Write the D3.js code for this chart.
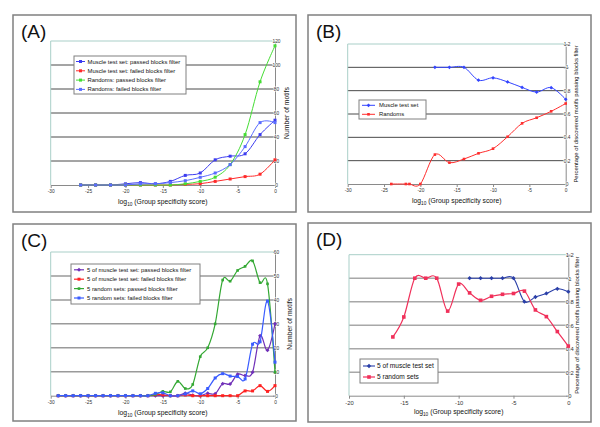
<!DOCTYPE html>
<html><head><meta charset="utf-8">
<script src="https://cdn.jsdelivr.net/npm/d3@7"></script>
<style>body{margin:0;background:#fff;} svg{display:block;font-family:Arial,'Liberation Sans',sans-serif;}</style>
</head><body><svg id="c" width="600" height="427"></svg>
<script>
// ---------- Panel A ----------
const xA = [-26,-24,-22,-20,-18,-16,-14,-12,-10,-8,-6,-4,-2,0];
const aMusclePassed = [0,0,0,1,2,1,3,8,10,21,24,26,42,54];
const aMuscleFailed = [0,0,0,0,0,0,0,0.5,1.1,3,5,7,9,21];
const aRandPassed   = [0,0,0,0,0,0,0,1,3,6.5,17,42,86,116];
const aRandFailed   = [0,0,0,0,1,1,2,3.6,6.4,10,17,32,52,52];
const ticksA_x = [-30,-25,-20,-15,-10,-5,0];
const ticksA_y = [0,20,40,60,80,100,120];

// ---------- Panel B ----------
const xBMuscle = [-18,-16,-14,-12,-10,-8,-6,-4,-2,0];
const bMuscle  = [1,1,1,0.89,0.91,0.875,0.828,0.788,0.826,0.726];
const xBRand   = [-24,-22,-21.5,-20,-18,-16,-14,-12,-10,-8,-6,-4,-2,0];
const bRand    = [0,0,0,0,0.252,0.183,0.214,0.263,0.303,0.405,0.52,0.568,0.623,0.69];
const ticksB_x = [-30,-25,-20,-15,-10,-5,0];
const ticksB_y = [0,0.2,0.4,0.6,0.8,1,1.2];

// ---------- Panel C ----------
const xC = d3.range(-29, 1);
const cMusclePassed = [0,0,0,0,0,0,0,0,0,0,0,0,0,0,0,0,0, 1,0.2,0,1,0.8,5,4.9,9,8.4,9.8,25,19,30];
const cMuscleFailed = [0,0,0,0,0,0,0,0,0,0,0,0,0, 0.4,0.4,0,0,0.3,0,0,0,0,0,0,0,2,2,4.2,1.8,4.2];
const cRandPassed   = [0,0,0,0,0,0,0,0,0,0,0,0,0, 0.5,1.8,1.6,6,3,4.7,16.3,20,30,48.3,47.8,52.3,54,56.3,47.2,46.7,9.8];
const cRandFailed   = [0,0,0,0,0,0,0,0,0,0,0,0,0, 1,1.2,0,0,0.7,2,0.8,3,7.4,9.2,8.2,8,7,21.5,22.5,39.5,14];
const ticksC_x = [-30,-25,-20,-15,-10,-5,0];
const ticksC_y = [0,10,20,30,40,50,60];

// ---------- Panel D ----------
const xDMuscle = [-9,-8,-7,-6,-5,-4,-3,-2,-1,0];
const dMuscle  = [1,1,1,1,1,0.8,0.84,0.87,0.91,0.885];
const xDRand   = [-16,-15,-14,-13,-12,-11,-10,-9,-8,-7,-6,-5,-4,-3,-2,-1,0];
const dRand    = [0.5,0.67,1,1,1,0.72,0.95,0.875,0.812,0.846,0.863,0.87,0.89,0.73,0.673,0.546,0.422];
const ticksD_x = [-20,-15,-10,-5,0];
const ticksD_y = [0,0.2,0.4,0.6,0.8,1,1.2];

const svg = d3.select('#c');
const fmt = d => String(+(+d).toFixed(1));

function panel(cfg) {
  const g = svg.append('g');
  const [bx0, by0, bx1, by1] = cfg.box;
  g.append('rect').attr('x', bx0).attr('y', by0).attr('width', bx1 - bx0).attr('height', by1 - by0)
    .attr('fill', '#fff').attr('stroke', '#808080').attr('stroke-width', 1.5);
  g.append('text').attr('x', bx0 + 8).attr('y', by0 + 23).attr('font-size', 19).attr('fill', '#111')
    .text(cfg.label);

  const [px0, py0, px1, py1] = cfg.plot;
  const x = d3.scaleLinear().domain([cfg.xTicks[0], cfg.xTicks[cfg.xTicks.length - 1]]).range([px0, px1]);
  const y = d3.scaleLinear().domain([cfg.yTicks[0], cfg.yTicks[cfg.yTicks.length - 1]]).range([py1, py0]);
  const ymax = cfg.yTicks[cfg.yTicks.length - 1];

  // gridlines
  g.append('g').selectAll('line').data(cfg.yTicks.slice(1, -1)).join('line')
    .attr('x1', px0).attr('x2', px1).attr('y1', d => y(d)).attr('y2', d => y(d))
    .attr('stroke', cfg.grid).attr('stroke-width', cfg.gridW);
  // plot area border (top & left)
  g.append('line').attr('x1', px0).attr('x2', px1).attr('y1', y(ymax)).attr('y2', y(ymax))
    .attr('stroke', '#a9cfc8').attr('stroke-width', 1);
  g.append('line').attr('x1', px0).attr('x2', px0).attr('y1', py0).attr('y2', py1)
    .attr('stroke', '#a9cfc8').attr('stroke-width', 1);

  // axes
  const xa = g.append('g').attr('transform', `translate(0,${py1})`)
    .call(d3.axisBottom(x).tickValues(cfg.xTicks).tickSize(3).tickSizeOuter(0).tickPadding(2).tickFormat(fmt));
  const ya = g.append('g').attr('transform', `translate(${px1},0)`)
    .call(d3.axisRight(y).tickValues(cfg.yTicks).tickSize(3).tickSizeOuter(0).tickFormat(fmt));
  [xa, ya].forEach(a => {
    a.select('.domain').attr('stroke', '#8a8a8a');
    a.selectAll('.tick line').attr('stroke', '#8a8a8a');
    a.selectAll('.tick text').attr('font-size', cfg.tickFont).attr('fill', '#333').attr('font-family', 'Arial');
  });
  ya.selectAll('.tick line').attr('x1', -2);
  ya.selectAll('.tick text').attr('x', 1.5).attr('text-anchor', 'middle')
    .attr('paint-order', 'stroke').attr('stroke', '#fff').attr('stroke-width', 1.2);

  // axis titles
  const xt = g.append('text').attr('x', (px0 + px1) / 2).attr('y', cfg.xTitleY).attr('text-anchor', 'middle')
    .attr('font-size', cfg.titleFont).attr('fill', '#111');
  xt.append('tspan').text('log');
  xt.append('tspan').attr('dy', 2).attr('font-size', cfg.titleFont * 0.7).text('10');
  xt.append('tspan').attr('dy', -2).text(' (Group specificity score)');
  g.append('text').attr('transform', `translate(${cfg.yTitleX},${(py0 + py1) / 2}) rotate(-90)`)
    .attr('text-anchor', 'middle').attr('font-size', cfg.yTitleFont).attr('fill', '#111').text(cfg.yTitle);

  // series
  const line = d3.line().x(d => x(d[0])).y(d => y(d[1])).curve(d3.curveCardinal.tension(0));
  cfg.series.forEach(s => {
    const pts = s.x.map((v, i) => [v, s.y[i]]);
    g.append('path').attr('d', line(pts)).attr('fill', 'none').attr('stroke', s.color).attr('stroke-width', s.lw || 1);
    drawMarkers(g, pts.map(p => [x(p[0]), y(p[1])]), s);
  });

  // legend
  const L = cfg.legend;
  g.append('rect').attr('x', L.x).attr('y', L.y).attr('width', L.w).attr('height', L.h)
    .attr('fill', '#fff').attr('stroke', '#808080').attr('stroke-width', 1);
  cfg.series.forEach((s, i) => {
    const ry = L.y + L.top + i * L.step;
    g.append('line').attr('x1', L.x + L.sx0).attr('x2', L.x + L.sx1).attr('y1', ry).attr('y2', ry)
      .attr('stroke', s.color).attr('stroke-width', s.lw || 1);
    drawMarkers(g, [[L.x + (L.sx0 + L.sx1) / 2, ry]], s);
    g.append('text').attr('x', L.x + L.tx).attr('y', ry + L.font * 0.35).attr('font-size', L.font)
      .attr('fill', '#111').text(s.name);
  });
}

function drawMarkers(g, pts, s) {
  const m = s.ms || 3;
  if (s.marker === 'diamond') {
    g.append('g').selectAll('path').data(pts).join('path')
      .attr('d', d => `M${d[0]},${d[1] - m / 1.4}L${d[0] + m / 1.4},${d[1]}L${d[0]},${d[1] + m / 1.4}L${d[0] - m / 1.4},${d[1]}Z`)
      .attr('fill', s.color);
  } else {
    g.append('g').selectAll('rect').data(pts).join('rect')
      .attr('x', d => d[0] - m / 2).attr('y', d => d[1] - m / 2).attr('width', m).attr('height', m)
      .attr('fill', s.color);
  }
}

panel({
  label: '(A)', box: [13, 15, 296, 212], plot: [50.7, 41, 275, 185],
  xTicks: ticksA_x, yTicks: ticksA_y, grid: '#4a4a4a', gridW: 1, tickFont: 4.8,
  xTitleY: 204, titleFont: 6.8, yTitle: 'Number of motifs', yTitleX: 289, yTitleFont: 6.8,
  series: [
    { name: 'Muscle test set: passed blocks filter', x: xA, y: aMusclePassed, color: '#3c3cf0', ms: 3 },
    { name: 'Muscle test set: failed blocks filter', x: xA, y: aMuscleFailed, color: '#ff2a2a', ms: 3 },
    { name: 'Randoms: passed blocks filter', x: xA, y: aRandPassed, color: '#44dd33', ms: 3 },
    { name: 'Randoms: failed blocks filter', x: xA, y: aRandFailed, color: '#5a6cff', ms: 3 }
  ],
  legend: { x: 74, y: 56, w: 112, h: 38, top: 5.5, step: 9.3, sx0: 2, sx1: 11, tx: 13.5, font: 5.9 }
});

panel({
  label: '(B)', box: [308, 15, 591, 212], plot: [347.7, 44, 565.7, 184],
  xTicks: ticksB_x, yTicks: ticksB_y, grid: '#4a4a4a', gridW: 1, tickFont: 4.8,
  xTitleY: 203, titleFont: 6.8, yTitle: 'Percentage of discovered motifs passing blocks filter', yTitleX: 578, yTitleFont: 5.9,
  series: [
    { name: 'Muscle test set', x: xBMuscle, y: bMuscle, color: '#3344ff', ms: 2.6, marker: 'diamond' },
    { name: 'Randoms', x: xBRand, y: bRand, color: '#ff2d2d', ms: 2.6 }
  ],
  legend: { x: 359, y: 100, w: 67, h: 19, top: 5.3, step: 9, sx0: 3, sx1: 16, tx: 20, font: 5.9 }
});

panel({
  label: '(C)', box: [13, 224, 296, 421], plot: [50.7, 252, 275, 395.7],
  xTicks: ticksC_x, yTicks: ticksC_y, grid: '#9a9a9a', gridW: 1.5, tickFont: 4.8,
  xTitleY: 415, titleFont: 6.8, yTitle: 'Number of motifs', yTitleX: 292, yTitleFont: 6.8,
  series: [
    { name: '5 of muscle test set: passed blocks filter', x: xC, y: cMusclePassed, color: '#7030b8', lw: 1.2, ms: 2.8, marker: 'diamond' },
    { name: '5 of muscle test set: failed blocks filter', x: xC, y: cMuscleFailed, color: '#ff2222', lw: 1.2, ms: 3 },
    { name: '5 random sets: passed blocks filter', x: xC, y: cRandPassed, color: '#33a833', lw: 1.2, ms: 2.6 },
    { name: '5 random sets: failed blocks filter', x: xC, y: cRandFailed, color: '#3a5cff', lw: 1.2, ms: 3 }
  ],
  legend: { x: 71, y: 264, w: 129, h: 40, top: 5.8, step: 9.4, sx0: 3, sx1: 13, tx: 16, font: 5.9 }
});

panel({
  label: '(D)', box: [308, 223, 591, 422], plot: [349, 254.7, 568.3, 395.7],
  xTicks: ticksD_x, yTicks: ticksD_y, grid: '#a8a8a8', gridW: 1.5, tickFont: 5.8,
  xTitleY: 414, titleFont: 6.8, yTitle: 'Percentage of discovered motifs passing blocks filter', yTitleX: 579, yTitleFont: 5.9,
  series: [
    { name: '5 of muscle test set', x: xDMuscle, y: dMuscle, color: '#2a3fa8', lw: 1.1, ms: 3, marker: 'diamond' },
    { name: '5 random sets', x: xDRand, y: dRand, color: '#f0305a', lw: 1.2, ms: 3.6 }
  ],
  legend: { x: 360, y: 359, w: 78, h: 24, top: 7, step: 11, sx0: 3, sx1: 15, tx: 17, font: 6.6 }
});
</script></body></html>
